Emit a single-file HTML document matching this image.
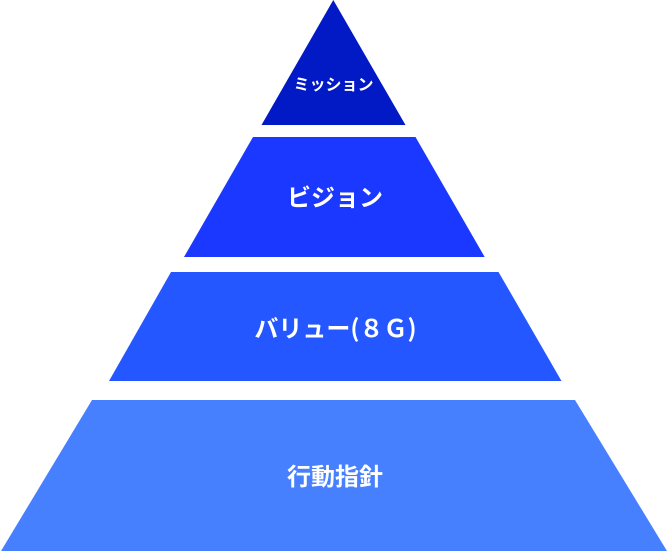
<!DOCTYPE html>
<html lang="ja">
<head>
<meta charset="utf-8">
<style>
html,body{margin:0;padding:0;background:#fff;width:667px;height:551px;overflow:hidden}
svg{display:block}
text{font-family:"Noto Sans CJK JP",sans-serif;font-weight:700;fill:#fff;text-anchor:middle}
</style>
</head>
<body>
<svg width="667" height="551" viewBox="0 0 667 551" xmlns="http://www.w3.org/2000/svg">
<polygon points="333.3,0 405.5,125 261.5,125" fill="#0219c6"/>
<polygon points="253,137 415.5,137 484.7,257 184,257" fill="#1a38ff"/>
<polygon points="171,272 498.5,272 561.5,381 109,381" fill="#2457ff"/>
<polygon points="92,400 575,400 667,551 1,551" fill="#4680ff"/>
<text x="333.500" y="90" font-size="16">ミッション</text>
<text x="335" y="206" font-size="24">ビジョン</text>
<text x="335.500" y="337" font-size="24">バリュー(８Ｇ)</text>
<text x="335" y="485" font-size="24">行動指針</text>
</svg>
</body>
</html>
